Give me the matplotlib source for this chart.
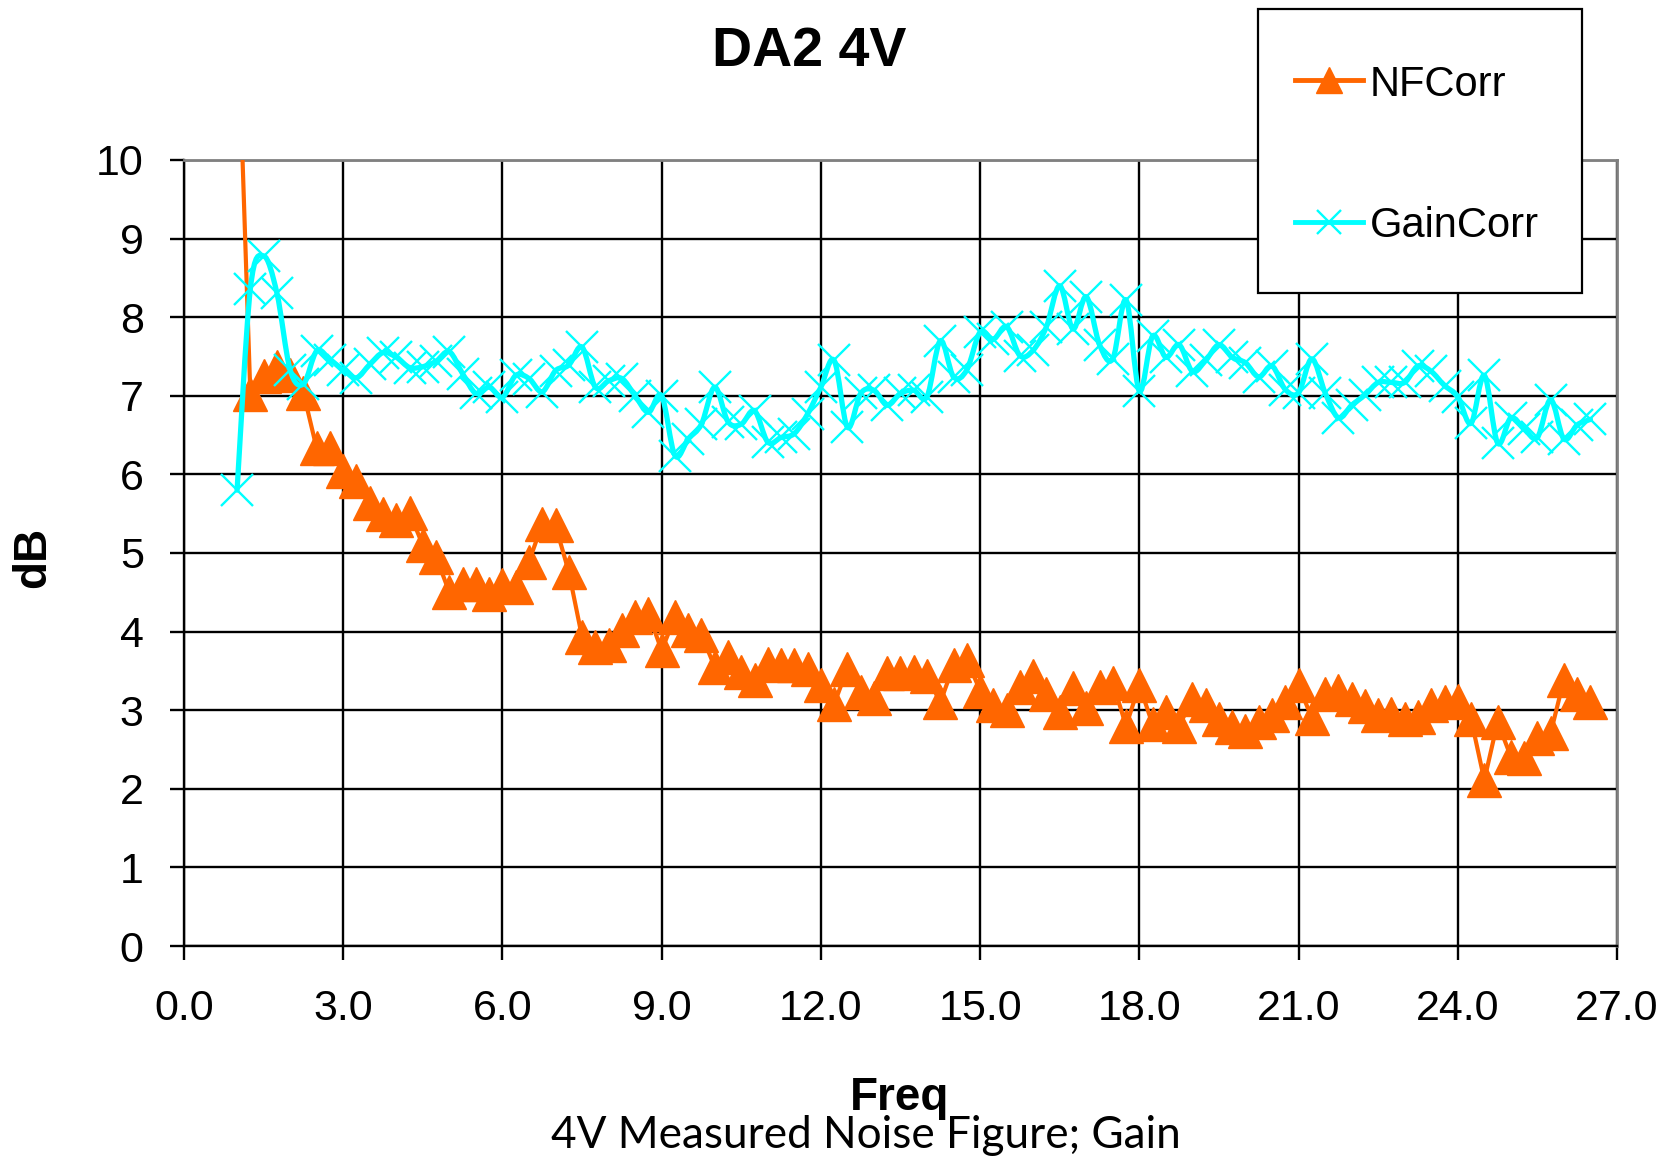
import numpy as np
import matplotlib
matplotlib.use("Agg")
import matplotlib.pyplot as plt
from matplotlib.path import Path
from matplotlib.patches import PathPatch, Rectangle
from matplotlib.lines import Line2D

plt.rcParams["font.family"] = ["Liberation Sans", "DejaVu Sans"]

# Frequency sweep (GHz)
freq = [1.0, 1.25, 1.5, 1.75, 2.0, 2.25, 2.5, 2.75, 3.0, 3.25, 3.5, 3.75,
        4.0, 4.25, 4.5, 4.75, 5.0, 5.25, 5.5, 5.75, 6.0, 6.25, 6.5, 6.75,
        7.0, 7.25, 7.5, 7.75, 8.0, 8.25, 8.5, 8.75, 9.0, 9.25, 9.5, 9.75,
        10.0, 10.25, 10.5, 10.75, 11.0, 11.25, 11.5, 11.75, 12.0, 12.25, 12.5, 12.75,
        13.0, 13.25, 13.5, 13.75, 14.0, 14.25, 14.5, 14.75, 15.0, 15.25, 15.5, 15.75,
        16.0, 16.25, 16.5, 16.75, 17.0, 17.25, 17.5, 17.75, 18.0, 18.25, 18.5, 18.75,
        19.0, 19.25, 19.5, 19.75, 20.0, 20.25, 20.5, 20.75, 21.0, 21.25, 21.5, 21.75,
        22.0, 22.25, 22.5, 22.75, 23.0, 23.25, 23.5, 23.75, 24.0, 24.25, 24.5, 24.75,
        25.0, 25.25, 25.5, 25.75, 26.0, 26.25, 26.5]

# Corrected noise figure (dB)
nf_corr = [12.1, 7.02, 7.25, 7.37, 7.27, 7.04, 6.33, 6.33, 6.04, 5.91, 5.63, 5.50,
           5.42, 5.51, 5.10, 4.95, 4.50, 4.61, 4.61, 4.48, 4.59, 4.57, 4.89, 5.37,
           5.35, 4.76, 3.93, 3.81, 3.83, 4.02, 4.19, 4.23, 3.76, 4.19, 4.02, 3.96,
           3.55, 3.68, 3.49, 3.38, 3.59, 3.58, 3.58, 3.52, 3.32, 3.08, 3.53, 3.23,
           3.16, 3.47, 3.47, 3.48, 3.44, 3.10, 3.57, 3.64, 3.25, 3.07, 3.00, 3.30,
           3.44, 3.21, 2.98, 3.28, 3.03, 3.30, 3.35, 2.80, 3.32, 2.82, 2.98, 2.80,
           3.14, 3.07, 2.89, 2.79, 2.73, 2.85, 2.94, 3.10, 3.32, 2.90, 3.21, 3.25,
           3.14, 3.05, 2.94, 2.95, 2.89, 2.91, 3.07, 3.10, 3.12, 2.89, 2.11, 2.85,
           2.41, 2.39, 2.64, 2.71, 3.39, 3.21, 3.10]

# Corrected gain (dB)
gain_corr = [5.80, 8.36, 8.78, 8.31, 7.33, 7.15, 7.57, 7.46, 7.33, 7.23, 7.40, 7.55,
             7.49, 7.36, 7.37, 7.44, 7.56, 7.28, 7.03, 7.11, 6.98, 7.26, 7.22, 7.05,
             7.32, 7.39, 7.62, 7.11, 7.19, 7.22, 7.00, 6.79, 7.00, 6.24, 6.45, 6.64,
             7.11, 6.67, 6.64, 6.81, 6.41, 6.47, 6.52, 6.77, 7.11, 7.45, 6.60, 7.03,
             7.07, 6.88, 7.03, 7.07, 6.99, 7.70, 7.24, 7.33, 7.81, 7.72, 7.88, 7.51,
             7.58, 7.88, 8.40, 7.85, 8.26, 7.65, 7.47, 8.22, 7.06, 7.76, 7.49, 7.65,
             7.31, 7.45, 7.65, 7.49, 7.42, 7.24, 7.38, 7.08, 7.04, 7.47, 7.04, 6.72,
             6.88, 7.01, 7.17, 7.17, 7.17, 7.38, 7.31, 7.13, 6.99, 6.65, 7.26, 6.40,
             6.72, 6.58, 6.47, 6.95, 6.45, 6.63, 6.70]

series_names = ["NFCorr", "GainCorr"]
x_ticks = [0.0, 3.0, 6.0, 9.0, 12.0, 15.0, 18.0, 21.0, 24.0, 27.0]
y_ticks = [0, 1, 2, 3, 4, 5, 6, 7, 8, 9, 10]

ORANGE = "#FF6600"
CYAN = "#00FFFF"

W, H = 1671, 1156


def smooth_path(x, y):
    """Bezier path through the points (Catmull-Rom style smoothing)."""
    pts = np.column_stack([x, y]).astype(float)
    n = len(pts)
    verts = [pts[0]]
    codes = [Path.MOVETO]
    for i in range(n - 1):
        p0 = pts[i - 1] if i > 0 else pts[i]
        p1 = pts[i]
        p2 = pts[i + 1]
        p3 = pts[i + 2] if i + 2 < n else pts[i + 1]
        c1 = p1 + (p2 - p0) / 6.0
        c2 = p2 - (p3 - p1) / 6.0
        verts += [c1, c2, p2]
        codes += [Path.CURVE4] * 3
    return Path(verts, codes)


fig = plt.figure(figsize=(W / 100, H / 100), dpi=100)
ax = fig.add_axes([184 / W, 1 - 946 / H, (1617 - 184) / W, (946 - 160) / H])

# Noise figure: straight segments with triangle markers
ax.plot(freq, nf_corr, color=ORANGE, lw=3, marker="^", markersize=25,
        markerfacecolor=ORANGE, markeredgecolor=ORANGE, zorder=3,
        solid_joinstyle="round")

# Gain: smoothed curve with x markers
gain_patch = PathPatch(smooth_path(freq, gain_corr), facecolor="none",
                       edgecolor=CYAN, lw=3.8, zorder=4, capstyle="round",
                       joinstyle="round")
ax.add_patch(gain_patch)
ax.plot(freq, gain_corr, linestyle="none", marker="x", markersize=23,
        markeredgewidth=1.7, color=CYAN, zorder=5)

ax.set_xlim(0, 27)
ax.set_ylim(0, 10)
ax.set_xticks(x_ticks)
ax.set_xticklabels([f"{v:.1f}" for v in x_ticks])
ax.set_yticks(y_ticks)
ax.set_yticklabels([str(v) for v in y_ticks])

ax.grid(True, color="black", lw=1.7, zorder=1)
ax.set_axisbelow(True)
ax.tick_params(axis="both", direction="out", length=10, width=1.7,
               colors="black", labelsize=31)
ax.tick_params(axis="x", pad=21)
ax.tick_params(axis="y", pad=19)

for side in ("left", "bottom"):
    ax.spines[side].set_color("black")
    ax.spines[side].set_linewidth(1.7)
for side in ("top", "right"):
    ax.spines[side].set_color("#808080")
    ax.spines[side].set_linewidth(2)

# Titles and axis labels
fig.text(809 / W, 1 - 52 / H, "DA2 4V", ha="center", va="center",
         fontsize=40, fontweight="bold")
fig.text(33 / W, 1 - 557 / H, "dB", rotation=90, ha="center", va="center",
         fontsize=33, fontweight="bold")
fig.text(900 / W, 1 - 1110 / H, "Freq", ha="center", va="baseline",
         fontsize=33, fontweight="bold", zorder=6)
fig.text(866 / W, 1 - 1148 / H, "4V Measured Noise Figure; Gain",
         ha="center", va="baseline", fontsize=31.8,
         family=["Lato", "DejaVu Sans"], zorder=5)

# Legend box
box = Rectangle((1258 / W, 1 - 293 / H), (1582 - 1258) / W, (293 - 9) / H,
                transform=fig.transFigure, facecolor="white",
                edgecolor="black", lw=1.6, zorder=10)
fig.add_artist(box)

legend_rows = [
    (series_names[0], 80, dict(color=ORANGE, marker="^", markersize=19,
                               markerfacecolor=ORANGE, markeredgecolor=ORANGE)),
    (series_names[1], 222, dict(color=CYAN, marker="x", markersize=17,
                                markeredgewidth=1.7)),
]
for label, ypix, style in legend_rows:
    yf = 1 - ypix / H
    handle = Line2D([1295 / W, 1329 / W, 1363 / W], [yf, yf, yf],
                    transform=fig.transFigure, lw=3.5, markevery=[1],
                    zorder=11, **style)
    fig.add_artist(handle)
    fig.text(1370 / W, yf, label, ha="left", va="center_baseline",
             fontsize=30, zorder=11)

fig.savefig("out.png", dpi=100, facecolor="white")
